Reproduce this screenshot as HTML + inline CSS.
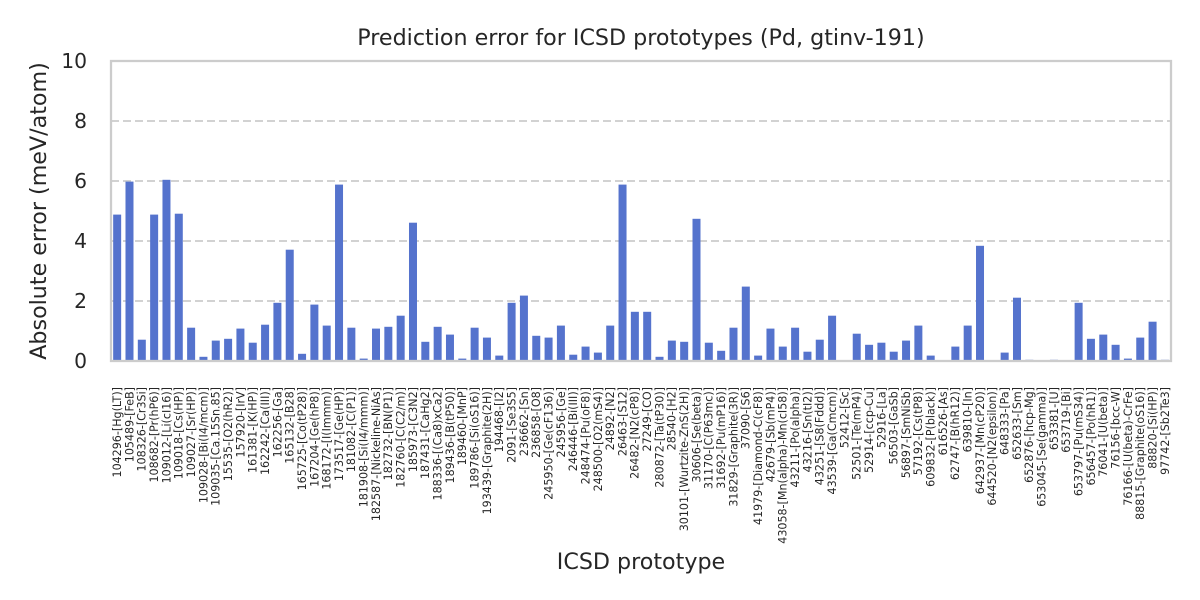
<!DOCTYPE html>
<html><head><meta charset="utf-8"><style>
html,body{margin:0;padding:0;background:#fff;}
svg{display:block;font-family:"DejaVu Sans","Liberation Sans",sans-serif;fill:#262626;}
</style></head><body>
<svg width="1200" height="600" viewBox="0 0 1200 600" xmlns="http://www.w3.org/2000/svg">
<rect width="1200" height="600" fill="#fff"/>
<g stroke="#cccccc" stroke-width="1.85" stroke-dasharray="8 4" fill="none">
<line x1="111" y1="121" x2="1171" y2="121"/>
<line x1="111" y1="181" x2="1171" y2="181"/>
<line x1="111" y1="241" x2="1171" y2="241"/>
<line x1="111" y1="301" x2="1171" y2="301"/>
</g>
<g fill="#5573cd" transform="translate(0,361) scale(1,-1)">
<rect x="113.16" y="0" width="8" height="146.4"/>
<rect x="125.49" y="0" width="8" height="179.4"/>
<rect x="137.81" y="0" width="8" height="21.3"/>
<rect x="150.14" y="0" width="8" height="146.4"/>
<rect x="162.47" y="0" width="8" height="181.2"/>
<rect x="174.79" y="0" width="8" height="147.3"/>
<rect x="187.12" y="0" width="8" height="33.3"/>
<rect x="199.44" y="0" width="8" height="4.2"/>
<rect x="211.77" y="0" width="8" height="20.4"/>
<rect x="224.10" y="0" width="8" height="22.2"/>
<rect x="236.42" y="0" width="8" height="32.4"/>
<rect x="248.75" y="0" width="8" height="18.3"/>
<rect x="261.08" y="0" width="8" height="36.3"/>
<rect x="273.40" y="0" width="8" height="58.2"/>
<rect x="285.73" y="0" width="8" height="111.3"/>
<rect x="298.06" y="0" width="8" height="7.2"/>
<rect x="310.38" y="0" width="8" height="56.4"/>
<rect x="322.71" y="0" width="8" height="35.4"/>
<rect x="335.03" y="0" width="8" height="176.4"/>
<rect x="347.36" y="0" width="8" height="33.3"/>
<rect x="359.69" y="0" width="8" height="2.4"/>
<rect x="372.01" y="0" width="8" height="32.4"/>
<rect x="384.34" y="0" width="8" height="34.2"/>
<rect x="396.67" y="0" width="8" height="45.3"/>
<rect x="408.99" y="0" width="8" height="138.3"/>
<rect x="421.32" y="0" width="8" height="19.2"/>
<rect x="433.65" y="0" width="8" height="34.2"/>
<rect x="445.97" y="0" width="8" height="26.4"/>
<rect x="458.30" y="0" width="8" height="2.4"/>
<rect x="470.62" y="0" width="8" height="33.3"/>
<rect x="482.95" y="0" width="8" height="23.4"/>
<rect x="495.28" y="0" width="8" height="5.4"/>
<rect x="507.60" y="0" width="8" height="58.2"/>
<rect x="519.93" y="0" width="8" height="65.4"/>
<rect x="532.26" y="0" width="8" height="25.2"/>
<rect x="544.58" y="0" width="8" height="23.4"/>
<rect x="556.91" y="0" width="8" height="35.4"/>
<rect x="569.24" y="0" width="8" height="6.3"/>
<rect x="581.56" y="0" width="8" height="14.4"/>
<rect x="593.89" y="0" width="8" height="8.4"/>
<rect x="606.22" y="0" width="8" height="35.4"/>
<rect x="618.54" y="0" width="8" height="176.4"/>
<rect x="630.87" y="0" width="8" height="49.2"/>
<rect x="643.19" y="0" width="8" height="49.2"/>
<rect x="655.52" y="0" width="8" height="4.2"/>
<rect x="667.85" y="0" width="8" height="20.4"/>
<rect x="680.17" y="0" width="8" height="19.2"/>
<rect x="692.50" y="0" width="8" height="142.2"/>
<rect x="704.83" y="0" width="8" height="18.3"/>
<rect x="717.15" y="0" width="8" height="10.2"/>
<rect x="729.48" y="0" width="8" height="33.3"/>
<rect x="741.81" y="0" width="8" height="74.4"/>
<rect x="754.13" y="0" width="8" height="5.4"/>
<rect x="766.46" y="0" width="8" height="32.4"/>
<rect x="778.78" y="0" width="8" height="14.4"/>
<rect x="791.11" y="0" width="8" height="33.3"/>
<rect x="803.44" y="0" width="8" height="9.3"/>
<rect x="815.76" y="0" width="8" height="21.3"/>
<rect x="828.09" y="0" width="8" height="45.3"/>
<rect x="852.74" y="0" width="8" height="27.3"/>
<rect x="865.07" y="0" width="8" height="16.2"/>
<rect x="877.40" y="0" width="8" height="18.3"/>
<rect x="889.72" y="0" width="8" height="9.3"/>
<rect x="902.05" y="0" width="8" height="20.4"/>
<rect x="914.37" y="0" width="8" height="35.4"/>
<rect x="926.70" y="0" width="8" height="5.4"/>
<rect x="951.35" y="0" width="8" height="14.4"/>
<rect x="963.68" y="0" width="8" height="35.4"/>
<rect x="976.01" y="0" width="8" height="115.2"/>
<rect x="1000.66" y="0" width="8" height="8.4"/>
<rect x="1012.99" y="0" width="8" height="63.3"/>
<rect x="1025.31" y="0" width="8" height="1.2"/>
<rect x="1049.97" y="0" width="8" height="1.2"/>
<rect x="1074.62" y="0" width="8" height="58.2"/>
<rect x="1086.94" y="0" width="8" height="22.2"/>
<rect x="1099.27" y="0" width="8" height="26.4"/>
<rect x="1111.60" y="0" width="8" height="16.2"/>
<rect x="1123.92" y="0" width="8" height="2.4"/>
<rect x="1136.25" y="0" width="8" height="23.4"/>
<rect x="1148.58" y="0" width="8" height="39.3"/>
<rect x="1160.90" y="0" width="8" height="1.2"/>
</g>
<rect x="111" y="61" width="1060" height="300" fill="none" stroke="#cccccc" stroke-width="2.3"/>
<g font-size="20.3" text-anchor="end">
<text x="87" y="361" dy="0.35em">0</text>
<text x="87" y="301" dy="0.35em">2</text>
<text x="87" y="241" dy="0.35em">4</text>
<text x="87" y="181" dy="0.35em">6</text>
<text x="87" y="121" dy="0.35em">8</text>
<text x="87" y="61" dy="0.35em">10</text>
</g>
<text x="641" y="45" font-size="22.2" text-anchor="middle">Prediction error for ICSD prototypes (Pd, gtinv-191)</text>
<text x="641" y="569" font-size="22.2" text-anchor="middle">ICSD prototype</text>
<text x="46" y="211" font-size="22.2" text-anchor="middle" transform="rotate(-90 46 211)">Absolute error (meV/atom)</text>
<g font-size="11.1" text-anchor="end">
<text x="117.16" y="387" dy="0.35em" transform="rotate(-90 117.16 387)">104296-[Hg(LT)]</text>
<text x="129.49" y="387" dy="0.35em" transform="rotate(-90 129.49 387)">105489-[FeB]</text>
<text x="141.81" y="387" dy="0.35em" transform="rotate(-90 141.81 387)">108326-[Cr3Si]</text>
<text x="154.14" y="387" dy="0.35em" transform="rotate(-90 154.14 387)">108682-[Pr(hP6)]</text>
<text x="166.47" y="387" dy="0.35em" transform="rotate(-90 166.47 387)">109012-[Li(cI16)]</text>
<text x="178.79" y="387" dy="0.35em" transform="rotate(-90 178.79 387)">109018-[Cs(HP)]</text>
<text x="191.12" y="387" dy="0.35em" transform="rotate(-90 191.12 387)">109027-[Sr(HP)]</text>
<text x="203.44" y="387" dy="0.35em" transform="rotate(-90 203.44 387)">109028-[Bi(I4/mcm)]</text>
<text x="215.77" y="387" dy="0.35em" transform="rotate(-90 215.77 387)">109035-[Ca.15Sn.85]</text>
<text x="228.10" y="387" dy="0.35em" transform="rotate(-90 228.10 387)">15535-[O2(hR2)]</text>
<text x="240.42" y="387" dy="0.35em" transform="rotate(-90 240.42 387)">157920-[IrV]</text>
<text x="252.75" y="387" dy="0.35em" transform="rotate(-90 252.75 387)">161381-[K(HP)]</text>
<text x="265.08" y="387" dy="0.35em" transform="rotate(-90 265.08 387)">162242-[Ca(III)]</text>
<text x="277.40" y="387" dy="0.35em" transform="rotate(-90 277.40 387)">162256-[Ga]</text>
<text x="289.73" y="387" dy="0.35em" transform="rotate(-90 289.73 387)">165132-[B28]</text>
<text x="302.06" y="387" dy="0.35em" transform="rotate(-90 302.06 387)">165725-[Co(tP28)]</text>
<text x="314.38" y="387" dy="0.35em" transform="rotate(-90 314.38 387)">167204-[Ge(hP8)]</text>
<text x="326.71" y="387" dy="0.35em" transform="rotate(-90 326.71 387)">168172-[I(Immm)]</text>
<text x="339.03" y="387" dy="0.35em" transform="rotate(-90 339.03 387)">173517-[Ge(HP)]</text>
<text x="351.36" y="387" dy="0.35em" transform="rotate(-90 351.36 387)">181082-[C(P1)]</text>
<text x="363.69" y="387" dy="0.35em" transform="rotate(-90 363.69 387)">181908-[Si(I4/mmm)]</text>
<text x="376.01" y="387" dy="0.35em" transform="rotate(-90 376.01 387)">182587-[Nickeline-NiAs]</text>
<text x="388.34" y="387" dy="0.35em" transform="rotate(-90 388.34 387)">182732-[BN(P1)]</text>
<text x="400.67" y="387" dy="0.35em" transform="rotate(-90 400.67 387)">182760-[C(C2/m)]</text>
<text x="412.99" y="387" dy="0.35em" transform="rotate(-90 412.99 387)">185973-[C3N2]</text>
<text x="425.32" y="387" dy="0.35em" transform="rotate(-90 425.32 387)">187431-[CaHg2]</text>
<text x="437.65" y="387" dy="0.35em" transform="rotate(-90 437.65 387)">188336-[(Ca8)xCa2]</text>
<text x="449.97" y="387" dy="0.35em" transform="rotate(-90 449.97 387)">189436-[B(tP50)]</text>
<text x="462.30" y="387" dy="0.35em" transform="rotate(-90 462.30 387)">189460-[MnP]</text>
<text x="474.62" y="387" dy="0.35em" transform="rotate(-90 474.62 387)">189786-[Si(oS16)]</text>
<text x="486.95" y="387" dy="0.35em" transform="rotate(-90 486.95 387)">193439-[Graphite(2H)]</text>
<text x="499.28" y="387" dy="0.35em" transform="rotate(-90 499.28 387)">194468-[I2]</text>
<text x="511.60" y="387" dy="0.35em" transform="rotate(-90 511.60 387)">2091-[Se3S5]</text>
<text x="523.93" y="387" dy="0.35em" transform="rotate(-90 523.93 387)">236662-[Sn]</text>
<text x="536.26" y="387" dy="0.35em" transform="rotate(-90 536.26 387)">236858-[O8]</text>
<text x="548.58" y="387" dy="0.35em" transform="rotate(-90 548.58 387)">245950-[Ge(cF136)]</text>
<text x="560.91" y="387" dy="0.35em" transform="rotate(-90 560.91 387)">245956-[Ge]</text>
<text x="573.24" y="387" dy="0.35em" transform="rotate(-90 573.24 387)">246446-[Bi(III)]</text>
<text x="585.56" y="387" dy="0.35em" transform="rotate(-90 585.56 387)">248474-[Pu(oF8)]</text>
<text x="597.89" y="387" dy="0.35em" transform="rotate(-90 597.89 387)">248500-[O2(mS4)]</text>
<text x="610.22" y="387" dy="0.35em" transform="rotate(-90 610.22 387)">24892-[N2]</text>
<text x="622.54" y="387" dy="0.35em" transform="rotate(-90 622.54 387)">26463-[S12]</text>
<text x="634.87" y="387" dy="0.35em" transform="rotate(-90 634.87 387)">26482-[N2(cP8)]</text>
<text x="647.19" y="387" dy="0.35em" transform="rotate(-90 647.19 387)">27249-[CO]</text>
<text x="659.52" y="387" dy="0.35em" transform="rotate(-90 659.52 387)">280872-[Ta(tP30)]</text>
<text x="671.85" y="387" dy="0.35em" transform="rotate(-90 671.85 387)">28540-[H2]</text>
<text x="684.17" y="387" dy="0.35em" transform="rotate(-90 684.17 387)">30101-[Wurtzite-ZnS(2H)]</text>
<text x="696.50" y="387" dy="0.35em" transform="rotate(-90 696.50 387)">30606-[Se(beta)]</text>
<text x="708.83" y="387" dy="0.35em" transform="rotate(-90 708.83 387)">31170-[C(P63mc)]</text>
<text x="721.15" y="387" dy="0.35em" transform="rotate(-90 721.15 387)">31692-[Pu(mP16)]</text>
<text x="733.48" y="387" dy="0.35em" transform="rotate(-90 733.48 387)">31829-[Graphite(3R)]</text>
<text x="745.81" y="387" dy="0.35em" transform="rotate(-90 745.81 387)">37090-[S6]</text>
<text x="758.13" y="387" dy="0.35em" transform="rotate(-90 758.13 387)">41979-[Diamond-C(cF8)]</text>
<text x="770.46" y="387" dy="0.35em" transform="rotate(-90 770.46 387)">42679-[Sb(mP4)]</text>
<text x="782.78" y="387" dy="0.35em" transform="rotate(-90 782.78 387)">43058-[Mn(alpha)-Mn(cI58)]</text>
<text x="795.11" y="387" dy="0.35em" transform="rotate(-90 795.11 387)">43211-[Po(alpha)]</text>
<text x="807.44" y="387" dy="0.35em" transform="rotate(-90 807.44 387)">43216-[Sn(tI2)]</text>
<text x="819.76" y="387" dy="0.35em" transform="rotate(-90 819.76 387)">43251-[S8(Fddd)]</text>
<text x="832.09" y="387" dy="0.35em" transform="rotate(-90 832.09 387)">43539-[Ga(Cmcm)]</text>
<text x="844.42" y="387" dy="0.35em" transform="rotate(-90 844.42 387)">52412-[Sc]</text>
<text x="856.74" y="387" dy="0.35em" transform="rotate(-90 856.74 387)">52501-[Te(mP4)]</text>
<text x="869.07" y="387" dy="0.35em" transform="rotate(-90 869.07 387)">52914-[ccp-Cu]</text>
<text x="881.40" y="387" dy="0.35em" transform="rotate(-90 881.40 387)">52916-[La]</text>
<text x="893.72" y="387" dy="0.35em" transform="rotate(-90 893.72 387)">56503-[GaSb]</text>
<text x="906.05" y="387" dy="0.35em" transform="rotate(-90 906.05 387)">56897-[SmNiSb]</text>
<text x="918.37" y="387" dy="0.35em" transform="rotate(-90 918.37 387)">57192-[Cs(tP8)]</text>
<text x="930.70" y="387" dy="0.35em" transform="rotate(-90 930.70 387)">609832-[P(black)]</text>
<text x="943.03" y="387" dy="0.35em" transform="rotate(-90 943.03 387)">616526-[As]</text>
<text x="955.35" y="387" dy="0.35em" transform="rotate(-90 955.35 387)">62747-[B(hR12)]</text>
<text x="967.68" y="387" dy="0.35em" transform="rotate(-90 967.68 387)">639810-[In]</text>
<text x="980.01" y="387" dy="0.35em" transform="rotate(-90 980.01 387)">642937-[Mn(cP20)]</text>
<text x="992.33" y="387" dy="0.35em" transform="rotate(-90 992.33 387)">644520-[N2(epsilon)]</text>
<text x="1004.66" y="387" dy="0.35em" transform="rotate(-90 1004.66 387)">648333-[Pa]</text>
<text x="1016.99" y="387" dy="0.35em" transform="rotate(-90 1016.99 387)">652633-[Sm]</text>
<text x="1029.31" y="387" dy="0.35em" transform="rotate(-90 1029.31 387)">652876-[hcp-Mg]</text>
<text x="1041.64" y="387" dy="0.35em" transform="rotate(-90 1041.64 387)">653045-[Se(gamma)]</text>
<text x="1053.97" y="387" dy="0.35em" transform="rotate(-90 1053.97 387)">653381-[U]</text>
<text x="1066.29" y="387" dy="0.35em" transform="rotate(-90 1066.29 387)">653719-[Bi]</text>
<text x="1078.62" y="387" dy="0.35em" transform="rotate(-90 1078.62 387)">653797-[Pu(mS34)]</text>
<text x="1090.94" y="387" dy="0.35em" transform="rotate(-90 1090.94 387)">656457-[Po(hR1)]</text>
<text x="1103.27" y="387" dy="0.35em" transform="rotate(-90 1103.27 387)">76041-[U(beta)]</text>
<text x="1115.60" y="387" dy="0.35em" transform="rotate(-90 1115.60 387)">76156-[bcc-W]</text>
<text x="1127.92" y="387" dy="0.35em" transform="rotate(-90 1127.92 387)">76166-[U(beta)-CrFe]</text>
<text x="1140.25" y="387" dy="0.35em" transform="rotate(-90 1140.25 387)">88815-[Graphite(oS16)]</text>
<text x="1152.58" y="387" dy="0.35em" transform="rotate(-90 1152.58 387)">88820-[Si(HP)]</text>
<text x="1164.90" y="387" dy="0.35em" transform="rotate(-90 1164.90 387)">97742-[Sb2Te3]</text>
</g>
</svg>
</body></html>
